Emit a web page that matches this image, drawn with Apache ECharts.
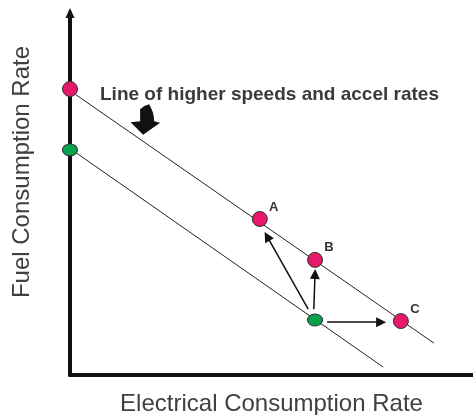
<!DOCTYPE html>
<html><head><meta charset="utf-8">
<script src="https://cdn.jsdelivr.net/npm/echarts@6/dist/echarts.min.js"></script>
<style>html,body{margin:0;padding:0;background:#fff}#c{width:473px;height:415px}</style>
</head><body><div id="c"></div>
<script>
const xTitle = 'Electrical Consumption Rate';
const yTitle = 'Fuel Consumption Rate';
const noteText = 'Line of higher speeds and accel rates';

// iso-lines (endpoints)
const upperLineX = [-0.2, 9.03];
const upperLineY = [8.01, 0.88];
const lowerLineX = [-0.52, 7.77];
const lowerLineY = [6.66, 0.22];

// red points (higher line)
const redNames = ['', 'A', 'B', 'C'];
const redX = [0, 4.71, 6.08, 8.21];
const redY = [7.90, 4.31, 3.18, 1.49];

// green points (base line)
const greenX = [0, 6.08];
const greenY = [6.22, 1.52];

// arrows from the green point
const arrowFromX = [5.91, 6.05, 6.38];
const arrowFromY = [1.82, 1.82, 1.46];
const arrowToX = [4.89, 6.08, 7.72];
const arrowToY = [3.83, 2.79, 1.46];

// callout arrow location
const calloutX = [1.87];
const calloutY = [7.06];

const FONT = '"Liberation Sans", Arial, Helvetica, sans-serif';
const chart = echarts.init(document.getElementById('c'), null, {renderer: 'canvas'});

const zip = (xs, ys) => xs.map((x, i) => [x, ys[i]]);

const option = {
  animation: false,
  backgroundColor: '#fff',
  grid: {left: 70, right: 0, top: 13, bottom: 40, containLabel: false, outerBoundsMode: 'none'},
  xAxis: {
    type: 'value', min: 0, max: 10,
    axisLine: {show: true, onZero: true, lineStyle: {color: '#111', width: 4}},
    axisTick: {show: false}, axisLabel: {show: false}, splitLine: {show: false},
    name: xTitle, nameLocation: 'middle', nameGap: 17,
    nameTextStyle: {fontSize: 24, color: '#404040', fontFamily: FONT}
  },
  yAxis: {
    type: 'value', min: 0, max: 10,
    axisLine: {show: true, onZero: true, symbol: ['none', 'triangle'], symbolSize: [9, 10],
      lineStyle: {color: '#111', width: 4}},
    axisTick: {show: false}, axisLabel: {show: false}, splitLine: {show: false},
    name: yTitle, nameLocation: 'middle', nameGap: 36, nameRotate: 90,
    nameTextStyle: {fontSize: 24, color: '#404040', fontFamily: FONT, padding: [0, 0, 0, 44]}
  },
  graphic: [{
    type: 'text', x: 100, y: 94.5, z: 100,
    style: {text: noteText, font: 'bold 19px ' + FONT, fill: '#3a3a3a',
      textAlign: 'left', textVerticalAlign: 'middle'}
  }],
  series: [
    {type: 'line', data: zip(upperLineX, upperLineY), showSymbol: false, symbol: 'none',
      clip: false, silent: true, lineStyle: {color: '#222', width: 1}, z: 2},
    {type: 'line', data: zip(lowerLineX, lowerLineY), showSymbol: false, symbol: 'none',
      clip: false, silent: true, lineStyle: {color: '#222', width: 1}, z: 2},
    {type: 'lines', coordinateSystem: 'cartesian2d', silent: true, z: 3,
      symbol: ['none', 'triangle'], symbolSize: [8, 10],
      lineStyle: {color: '#111', width: 1.5, opacity: 1},
      data: arrowFromX.map((x, i) => ({coords: [[x, arrowFromY[i]], [arrowToX[i], arrowToY[i]]]}))},
    {type: 'scatter', data: zip(redX, redY), symbol: 'circle', symbolSize: 15, z: 5,
      itemStyle: {color: '#e5186a', borderColor: '#333', borderWidth: 1, opacity: 1},
      label: {show: true, position: 'inside', offset: [14, -12],
        formatter: p => redNames[p.dataIndex], fontSize: 13, fontWeight: 'bold',
        color: '#333', fontFamily: FONT}},
    {type: 'scatter', data: zip(greenX, greenY), symbol: 'circle', symbolSize: [15, 12], z: 5,
      itemStyle: {color: '#05a34c', borderColor: '#333', borderWidth: 1, opacity: 1}},
    {type: 'scatter', data: zip(calloutX, calloutY), z: 4,
      symbol: 'path://M10,5 Q14,1 19,0 Q24,8 24,17 L30,18.5 L13,30.5 L0.5,18 L10,17 Z',
      symbolSize: [29.5, 30.5], itemStyle: {color: '#111', opacity: 1}}
  ]
};
chart.setOption(option);
</script>
</body></html>
